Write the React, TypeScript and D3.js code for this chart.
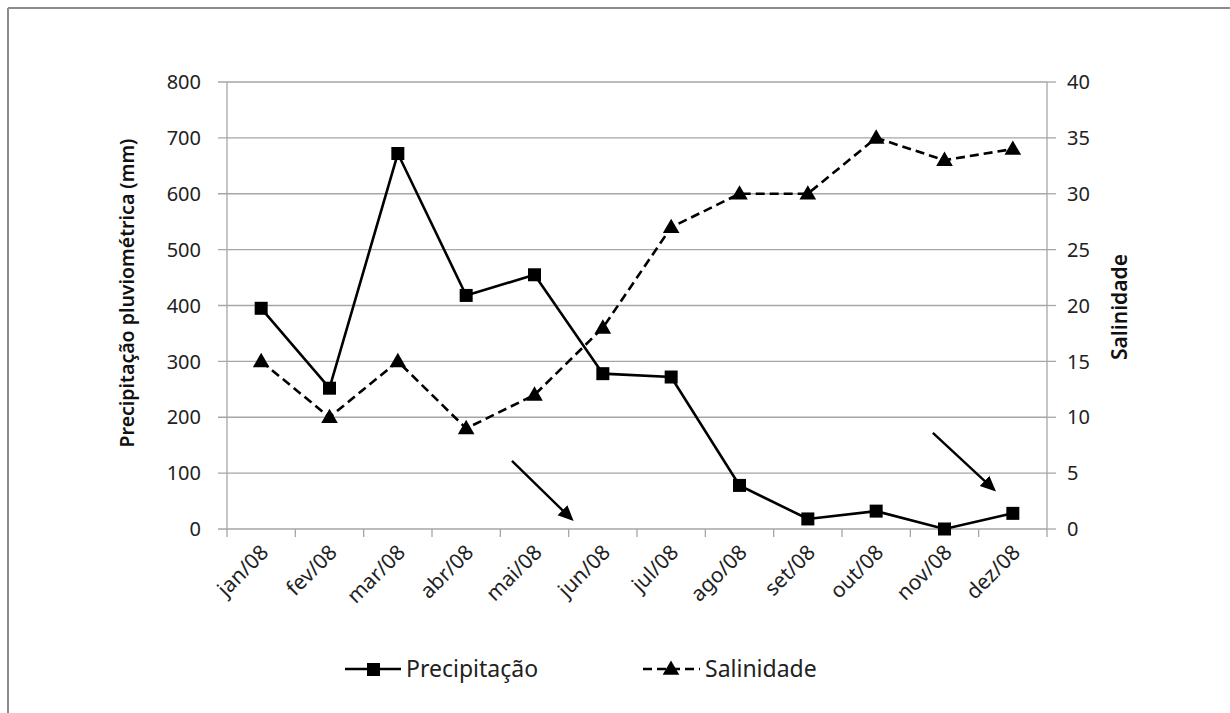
import React from "react";
import * as d3 from "d3";

const months = ["jan/08","fev/08","mar/08","abr/08","mai/08","jun/08","jul/08","ago/08","set/08","out/08","nov/08","dez/08"];
const precipitacao = [395, 252, 672, 418, 455, 278, 272, 78, 18, 32, 0, 28];
const salinidade = [15, 10, 15, 9, 12, 18, 27, 30, 30, 35, 33, 34];
const leftTicks = [0, 100, 200, 300, 400, 500, 600, 700, 800];
const rightTicks = [0, 5, 10, 15, 20, 25, 30, 35, 40];
// arrows in band-index units (x) and precipitation units (y)
const arrows = [
  { x1: 4.17, y1: 122, x2: 5.04, y2: 18 },
  { x1: 10.33, y1: 172, x2: 11.22, y2: 71 },
];

const W = 1230, H = 713;
const font = "'Noto Sans', 'Open Sans', sans-serif";

export default function App() {
  const left = 227, right = 1047, top = 82, bottom = 529;
  const x = d3.scaleBand<string>().domain(months).range([left, right]);
  const xi = d3.scaleLinear().domain([0, 12]).range([left, right]);
  const yL = d3.scaleLinear().domain([0, 800]).range([bottom, top]);
  const yR = d3.scaleLinear().domain([0, 40]).range([bottom, top]);
  const cx = (m: string) => (x(m) as number) + x.bandwidth() / 2;

  const lineP = d3.line<number>().x((_, i) => cx(months[i])).y((d) => yL(d));
  const lineS = d3.line<number>().x((_, i) => cx(months[i])).y((d) => yR(d));
  const tri = d3.symbol().type(d3.symbolTriangle).size(120)();

  return (
    <svg width={W} height={H} style={{ display: "block", position: "absolute", left: 0, top: 0 }} fontFamily={font}>
      <defs>
        <marker id="ah" viewBox="0 0 10 10" refX="8" refY="5" markerWidth="6.5" markerHeight="6.5" orient="auto" markerUnits="strokeWidth">
          <path d="M0,0.5 L10,5 L0,9.5 Z" fill="#000" />
        </marker>
      </defs>
      <rect x={0} y={0} width={W} height={H} fill="#fff" />
      <line x1={8} y1={8} x2={W} y2={8} stroke="#8c8c8c" strokeWidth={2} />
      <line x1={8} y1={8} x2={8} y2={H} stroke="#8c8c8c" strokeWidth={2} />

      {leftTicks.map((t) => (
        <g key={"g" + t}>
          <line x1={left - 9} x2={right} y1={yL(t)} y2={yL(t)} stroke="#a6a6a6" strokeWidth={1.3} />
          <text x={left - 26} y={yL(t)} dy="0.36em" textAnchor="end" fontSize={20} fill="#222">{t}</text>
        </g>
      ))}
      {rightTicks.map((t) => (
        <g key={"r" + t}>
          <line x1={right} x2={right + 9} y1={yR(t)} y2={yR(t)} stroke="#a6a6a6" strokeWidth={1.3} />
          <text x={right + 20} y={yR(t)} dy="0.36em" textAnchor="start" fontSize={20} fill="#222">{t}</text>
        </g>
      ))}
      <line x1={left} x2={left} y1={top} y2={bottom} stroke="#a6a6a6" strokeWidth={1.3} />
      <line x1={right} x2={right} y1={top} y2={bottom} stroke="#a6a6a6" strokeWidth={1.3} />
      {d3.range(13).map((i) => (
        <line key={"xt" + i} x1={xi(i)} x2={xi(i)} y1={bottom} y2={bottom + 8} stroke="#a6a6a6" strokeWidth={1.3} />
      ))}
      {months.map((m) => (
        <text key={m} transform={`translate(${cx(m) - 2},${bottom + 14}) rotate(-45)`} textAnchor="end" dy="0.72em" fontSize={21} fill="#222">{m}</text>
      ))}

      <text transform={`translate(134,293) rotate(-90)`} textAnchor="middle" fontSize={19.5} fontWeight={600} fill="#111">Precipitação pluviométrica (mm)</text>
      <text transform={`translate(1127,307) rotate(-90)`} textAnchor="middle" fontSize={21} fontWeight={600} fill="#111">Salinidade</text>

      <path d={lineS(salinidade) || ""} fill="none" stroke="#000" strokeWidth={2.6} strokeDasharray="9 5" />
      <path d={lineP(precipitacao) || ""} fill="none" stroke="#000" strokeWidth={2.6} />
      {precipitacao.map((v, i) => (
        <rect key={"p" + i} x={cx(months[i]) - 6.5} y={yL(v) - 6.5} width={13} height={13} fill="#000" />
      ))}
      {salinidade.map((v, i) => (
        <path key={"s" + i} d={tri || ""} transform={`translate(${cx(months[i])},${yR(v) + 1})`} fill="#000" />
      ))}

      {arrows.map((a, i) => (
        <line key={"a" + i} x1={xi(a.x1)} y1={yL(a.y1)} x2={xi(a.x2)} y2={yL(a.y2)} stroke="#000" strokeWidth={2.4} markerEnd="url(#ah)" />
      ))}

      <g>
        <line x1={345} x2={401} y1={669} y2={669} stroke="#000" strokeWidth={2.6} />
        <rect x={367} y={663} width={13} height={13} fill="#000" />
        <text x={406} y={669} dy="0.36em" fontSize={23} fill="#222">Precipitação</text>
        <line x1={643} x2={700} y1={669} y2={669} stroke="#000" strokeWidth={2.6} strokeDasharray="9 5" />
        <path d={tri || ""} transform="translate(671,670)" fill="#000" />
        <text x={705} y={669} dy="0.36em" fontSize={23} fill="#222">Salinidade</text>
      </g>
    </svg>
  );
}
